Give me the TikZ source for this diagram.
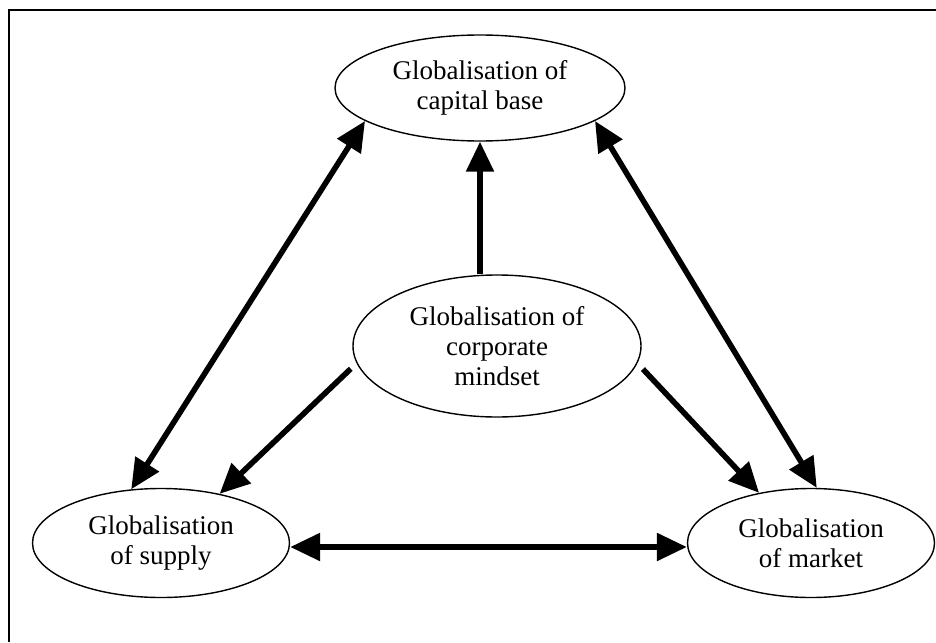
\documentclass[tikz,border=0pt]{standalone}
\usepackage{fontspec}
\setmainfont{Liberation Serif}
\usetikzlibrary{shapes.geometric,arrows.meta}
\begin{document}
\begin{tikzpicture}[x=1pt,y=-1pt,
  oval/.style={ellipse,draw,line width=1.4pt,inner sep=0pt,align=center,
    font=\fontsize{27}{30}\selectfont},
  link/.style={line width=5.6pt,-{Triangle[length=30pt,width=27pt]}},
  bilink/.style={line width=5.6pt,{Triangle[length=30pt,width=27pt]}-{Triangle[length=30pt,width=27pt]}}]
\useasboundingbox (0,0) rectangle (936,642);
% open frame (left and top edges)
\draw[line width=2pt] (9,642) |- (936,10);

% the four spheres of globalisation
\node[oval,minimum width=290pt,minimum height=106pt] (cap) at (480,88)
  {Globalisation of\\capital base};
\node[oval,minimum width=288pt,minimum height=142pt] (mind) at (497,346)
  {Globalisation of\\corporate\\mindset};
\node[oval,minimum width=257pt,minimum height=109pt] (sup) at (161,543)
  {Globalisation\\of supply};
\node[oval,minimum width=247pt,minimum height=109pt] (mkt) at (811,543)
  {Globalisation\\of market};

% mindset drives the other three
\draw[link] (mind.north -| cap.south) -- (cap.south);
\draw[link,shorten <=8pt] (mind.187) -- (sup.40);
\draw[link,shorten <=8pt] (mind.353) -- (mkt.136);

% mutual links between the outer spheres
\draw[bilink] (cap.196) -- (sup.119);
\draw[bilink] (cap.344) -- (mkt.84);
\draw[bilink] ([yshift=-4pt]sup.east) -- ([yshift=-4pt]mkt.west);
\end{tikzpicture}
\end{document}
